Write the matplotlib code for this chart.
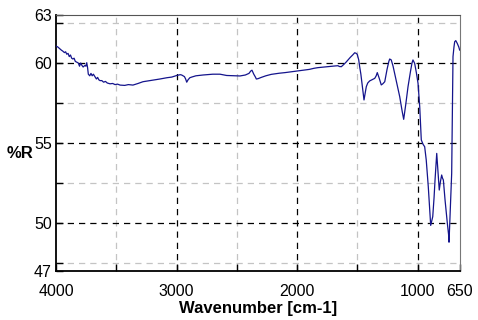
import matplotlib
matplotlib.use('Agg')
import matplotlib.pyplot as plt

plt.rcParams['font.family'] = ['Liberation Sans', 'DejaVu Sans']

# spectrum (wavenumber, %R)
wavenumber = [3998, 3985, 3970, 3955, 3945, 3930, 3920, 3911, 3900, 3890, 3880,
              3870, 3860, 3850, 3840, 3828, 3815, 3805, 3795, 3785, 3775, 3760,
              3752, 3745, 3738, 3732, 3720, 3710, 3700, 3690, 3677, 3665, 3655,
              3645, 3635, 3620, 3605, 3590, 3575, 3552, 3530, 3510, 3490, 3469,
              3430, 3400, 3362, 3320, 3279, 3220, 3180, 3138, 3080, 3040, 2999,
              2970, 2958, 2935, 2925, 2916, 2905, 2890, 2875, 2840, 2781, 2700,
              2640, 2585, 2520, 2474, 2430, 2400, 2385, 2375, 2360, 2345, 2339,
              2325, 2298, 2260, 2215, 2150, 2100, 2050, 1993, 1950, 1900, 1860,
              1828, 1790, 1750, 1710, 1680, 1662, 1650, 1634, 1615, 1595, 1579,
              1560, 1540, 1523, 1510, 1502, 1490, 1482, 1472, 1463, 1455, 1446,
              1437, 1427, 1415, 1399, 1380, 1357, 1345, 1336, 1320, 1303, 1290,
              1274, 1255, 1240, 1233, 1220, 1205, 1192, 1170, 1150, 1130, 1117,
              1100, 1081, 1060, 1048, 1040, 1026, 1012, 998, 984, 971, 955, 943,
              930, 913, 900, 893, 876, 865, 857, 843, 835, 830, 822, 812, 802,
              795, 788, 774, 755, 745, 741, 733, 719, 714, 708, 700, 694, 685,
              673, 660, 653]
reflectance = [61.05, 61.0, 60.9, 60.8, 60.75, 60.65, 60.7, 60.55, 60.6, 60.4,
               60.5, 60.3, 60.25, 60.3, 60.1, 60.05, 60.0, 59.8, 60.0, 59.85,
               59.75, 59.85, 59.8, 60.02, 59.7, 59.3, 59.2, 59.35, 59.2, 59.3,
               59.15, 59.0, 59.1, 58.95, 58.9, 58.9, 58.8, 58.85, 58.75, 58.7,
               58.72, 58.65, 58.68, 58.62, 58.6, 58.65, 58.62, 58.72, 58.83,
               58.9, 58.95, 59.0, 59.08, 59.12, 59.22, 59.27, 59.25, 59.15,
               59.0, 58.8, 58.95, 59.08, 59.12, 59.2, 59.25, 59.3, 59.3, 59.22,
               59.2, 59.19, 59.25, 59.35, 59.5, 59.55, 59.3, 59.1, 59.0, 59.02,
               59.1, 59.2, 59.29, 59.36, 59.4, 59.45, 59.5, 59.55, 59.6, 59.67,
               59.71, 59.74, 59.77, 59.8, 59.82, 59.83, 59.78, 59.77, 59.9,
               60.05, 60.19, 60.35, 60.5, 60.64, 60.6, 60.54, 60.2, 59.77, 59.3,
               58.73, 58.2, 57.69, 58.1, 58.52, 58.75, 58.88, 58.95, 59.04, 59.2,
               59.4, 59.05, 58.63, 58.7, 58.83, 59.6, 60.1, 60.25, 60.19, 59.8,
               59.35, 58.6, 57.9, 57.0, 56.48, 57.4, 58.52, 59.5, 60.0, 60.19,
               59.98, 59.4, 58.73, 57.27, 55.19, 54.9, 54.77, 53.94, 52.27, 50.7,
               49.85, 50.4, 51.6, 52.69, 54.35, 53.5, 52.9, 52.06, 52.6, 53.0,
               52.8, 52.69, 51.44, 49.98, 49.3, 48.8, 50.4, 53.1, 56.23, 60.4,
               61.0, 61.33, 61.4, 61.23, 61.0, 60.81]

x_ticks = [4000, 3000, 2000, 1000, 650]
x_minor = [3500, 2500, 1500]
y_ticks = [47, 50, 55, 60, 63]
y_minor = [47.5, 52.5, 57.5, 62.5]

fig = plt.figure(figsize=(4.78, 3.20), dpi=100)
ax = fig.add_axes([56 / 478, 1 - 271 / 320, 404 / 478, 256 / 320])

ax.plot(wavenumber, reflectance, color='#14148c', lw=0.9, zorder=3)

ax.set_xlim(4000, 650)
ax.set_ylim(47, 63)

ax.set_xticks(x_ticks)
ax.set_xticks(x_minor, minor=True)
ax.set_yticks(y_ticks)
ax.set_yticks(y_minor, minor=True)
ax.tick_params(which='both', direction='in', labelsize=11.5, length=5,
               width=1, top=False, right=False)
ax.tick_params(axis='x', pad=9)
ax.tick_params(axis='y', pad=3)

# grid: black dashes on major, light gray dashes on minor
dash = (0, (5, 4))
for v in [3000, 2000, 1000]:
    ax.axvline(v, color='black', lw=0.9, ls=dash, zorder=1)
for v in x_minor:
    ax.axvline(v, color='#c4c4c4', lw=0.9, ls=dash, zorder=1)
for v in [50, 55, 60]:
    ax.axhline(v, color='black', lw=0.9, ls=dash, zorder=1)
for v in y_minor:
    ax.axhline(v, color='#c4c4c4', lw=0.9, ls=dash, zorder=1)

ax.spines['left'].set_linewidth(1.3)
ax.spines['bottom'].set_linewidth(1.3)
ax.spines['top'].set_color('#555555')
ax.spines['right'].set_color('#777777')

ax.set_xlabel('Wavenumber [cm-1]', fontsize=12, fontweight='bold', labelpad=2)
fig.text(20 / 478, 1 - 153 / 320, '%R', fontsize=12, fontweight='bold',
         ha='center', va='center')

fig.savefig('out.png', dpi=100)
